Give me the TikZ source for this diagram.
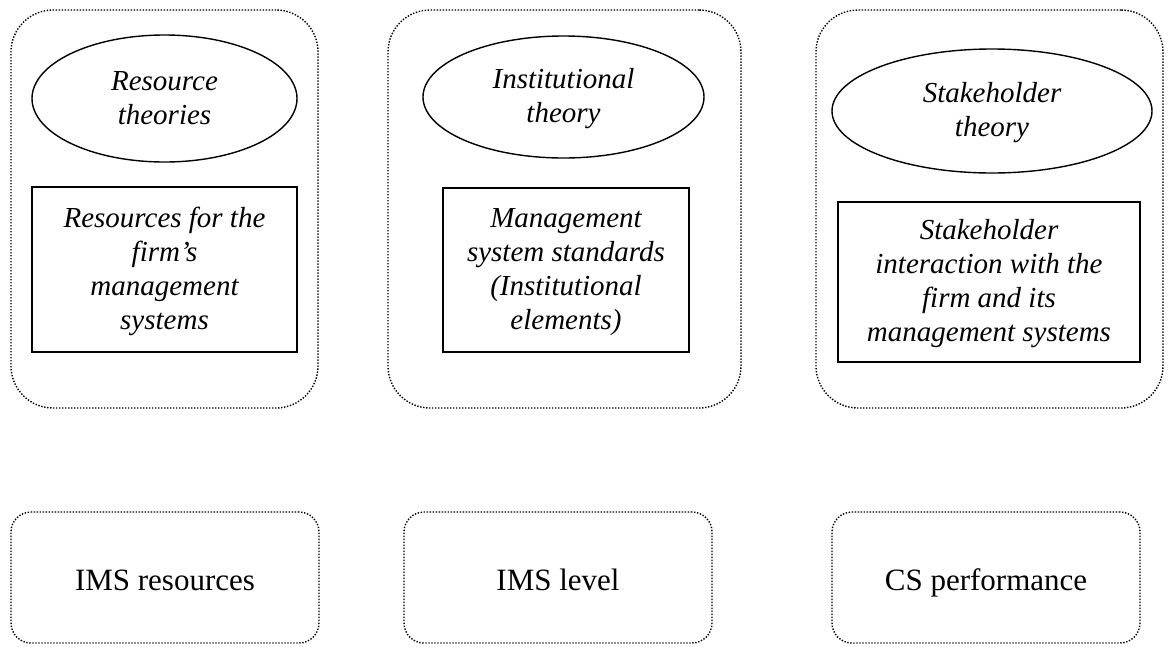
\documentclass[tikz,border=0pt]{standalone}
\usepackage{fontspec}
\setmainfont{Liberation Serif}
\usetikzlibrary{shapes.geometric}
\newcommand\tx[1]{\rule{0pt}{27pt}#1\rule[-10pt]{0pt}{10pt}}
\begin{document}
\begin{tikzpicture}[x=1pt,y=-1pt,
  outerbox/.style={draw, line width=1.4pt, dash pattern=on 1.4pt off 1.6pt, rounded corners=42pt, inner sep=0pt},
  lowbox/.style={draw, line width=1.4pt, dash pattern=on 1.4pt off 1.6pt, rounded corners=20pt, inner sep=0pt,
    minimum width=308pt, minimum height=131pt, text height=28pt, text depth=3pt,
    font=\fontsize{31}{36}\selectfont},
  theory/.style={draw, ellipse, line width=1.4pt, inner sep=0pt, align=center,
    font=\fontsize{29}{34}\selectfont\itshape},
  concept/.style={draw, rectangle, line width=1.4pt, inner sep=0pt, align=center,
    font=\fontsize{29}{34}\selectfont\itshape}]
\useasboundingbox (0,0) rectangle (1168,646);
% upper frames
\node[outerbox, minimum width=307pt, minimum height=398pt] (f1) at (164.5,209) {};
\node[outerbox, minimum width=353pt, minimum height=398pt] (f2) at (564.5,209) {};
\node[outerbox, minimum width=347pt, minimum height=398pt] (f3) at (989.5,209) {};
% ellipses
\node[theory, minimum width=265pt, minimum height=127pt] (e1) at (164.5,98.5) {\tx{Resource\\theories}};
\node[theory, minimum width=281pt, minimum height=122pt] (e2) at (563.5,97) {\tx{Institutional\\theory}};
\node[theory, minimum width=320pt, minimum height=124pt] (e3) at (992,111) {\tx{Stakeholder\\theory}};
% rectangles
\node[concept, minimum width=265pt, minimum height=165pt] (r1) at (164.5,269.5) {\tx{Resources for the\\firm’s\\management\\systems}};
\node[concept, minimum width=246pt, minimum height=164pt] (r2) at (566,270) {\tx{Management\\system standards\\(Institutional\\elements)}};
\node[concept, minimum width=302pt, minimum height=160pt] (r3) at (989,282) {\tx{Stakeholder\\interaction with the\\firm and its\\management systems}};
% lower boxes
\node[lowbox] (b1) at (165,577.5) {IMS resources};
\node[lowbox] (b2) at (558,577.5) {IMS level};
\node[lowbox] (b3) at (986,577.5) {CS performance};
\end{tikzpicture}
\end{document}
